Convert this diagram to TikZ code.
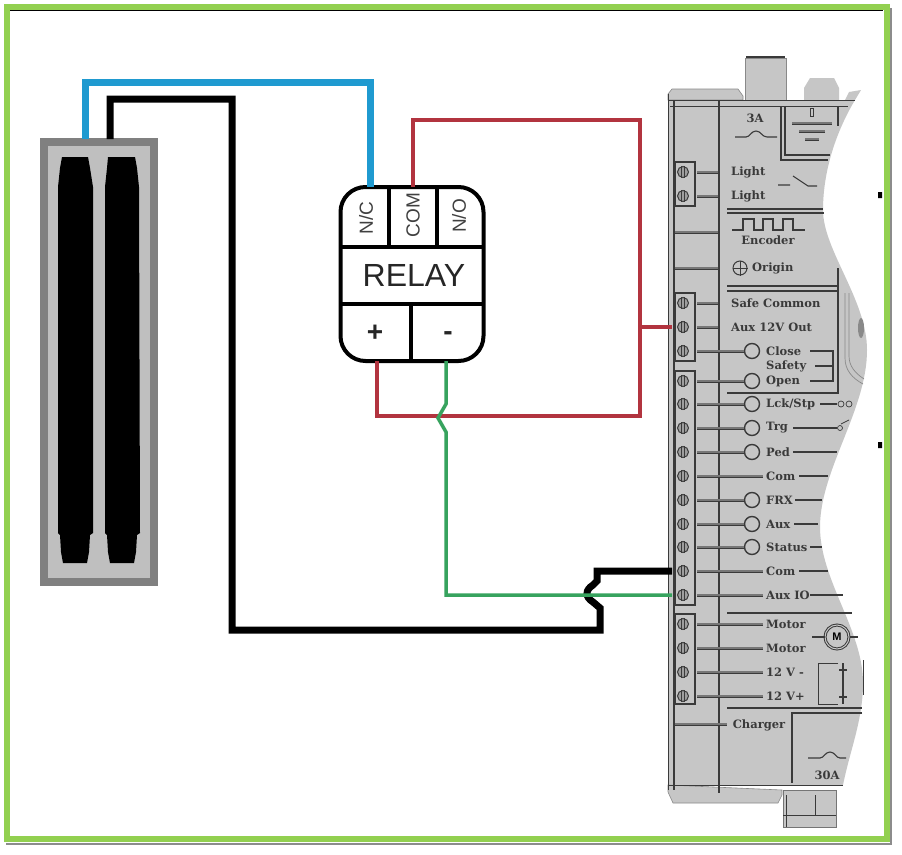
\documentclass[tikz,border=0pt]{standalone}
\usepackage{fontspec}
\usepackage{tikz}
\usetikzlibrary{shapes,arrows,positioning,calc}
\setmainfont{Liberation Sans}
\newfontfamily\panelfont{DejaVu Serif}
\definecolor{framegreen}{HTML}{92D050}
\definecolor{wireblue}{HTML}{1F9AD0}
\definecolor{wirered}{HTML}{B2343F}
\definecolor{wiregreen}{HTML}{37A35E}
\definecolor{bodygray}{HTML}{C6C6C6}
\definecolor{inkgray}{HTML}{3A3A3A}

\begin{document}
\begin{tikzpicture}[x=1pt,y=-1pt,line join=miter]
  \tikzstyle{ink}=[draw=inkgray,line width=1.1pt]
  \tikzstyle{lead}=[draw=inkgray,line width=0.7pt,double=bodygray!60!black,double distance=1.6pt]
  \tikzstyle{lbl}=[font=\panelfont\bfseries\fontsize{11.5}{12}\selectfont,text=inkgray,inner sep=0pt]
  \tikzstyle{led}=[circle,draw=inkgray,line width=1.4pt,minimum size=15pt,inner sep=0pt]
  \tikzstyle{screw}=[circle,draw=inkgray,fill=bodygray!80!black,line width=1pt,minimum size=11pt,inner sep=0pt]
  \tikzstyle{relaytext}=[font=\fontsize{19}{20}\selectfont,text=black!75,inner sep=0pt]

  \useasboundingbox (0,0) rectangle (902,854);
  \fill[white] (0,0) rectangle (902,854);

  % panel outline
  \fill[bodygray] (668,100) -- (855,100) .. controls (840,125) and (823,165) .. (823,210)
    .. controls (823,250) and (867,300) .. (867,350) .. controls (867,410) and (820,470) .. (820,527)
    .. controls (820,580) and (863,630) .. (863,683) .. controls (863,720) and (850,750) .. (843,785)
    -- (668,785) -- cycle;
  \filldraw[fill=bodygray,draw=inkgray!60,line width=0.6pt] (668,100) -- (668,94) -- (672,89) -- (738,89) -- (743,96) -- (743,100) -- cycle;
  \filldraw[fill=bodygray,draw=inkgray!60,line width=0.6pt] (745,100) -- (745,58) -- (786,58) -- (786,100) -- cycle;
  \draw[inkgray,line width=1.5pt] (746,57) -- (785,57);
  \fill[bodygray] (804,100) -- (804,88) -- (810,78) -- (834,78) -- (839,88) -- (839,100) -- cycle;
  \fill[bodygray] (845,100) -- (849,92) -- (861,90) -- (855,100) -- cycle;
  \filldraw[fill=bodygray,draw=inkgray!60,line width=0.6pt] (668,785) -- (668,792) -- (673,803) -- (778,803) -- (782,795) -- (782,790) -- cycle;
  \filldraw[fill=bodygray,draw=inkgray!70,line width=0.6pt] (783,790) rectangle (836,827);
  \draw[ink,line width=0.7pt] (786,795) -- (786,827) (815,795) -- (815,815) (783,815) -- (836,815);

  % panel rules
  \draw[ink,line width=0.8pt] (668,100) -- (855,100) (670,106) -- (848,106);
  \draw[ink] (674,100) -- (674,790) (719,100) -- (719,793);
  \draw[ink,line width=0.8pt] (668,785) -- (843,785);
  \draw[ink,line width=0.8pt] (668,94) -- (668,790);
  \draw[ink] (781,107) -- (781,160) -- (828,160) (785,107) -- (785,155) -- (830,155) (838,107) -- (838,126);
  \draw[ink,line width=1.6pt] (727,209) -- (823,209) (727,213) -- (824,213);
  \draw[ink] (727,286) -- (838,286) (727,291) -- (838,291) (838,268) -- (838,393) -- (727,393);
  \draw[ink] (727,613) -- (852,613) (727,708) -- (862,708);
  \draw[ink] (862,713) -- (792,713) -- (792,783);
  \draw[lead] (675,232) -- (718,232);
  \draw[lead] (675,268) -- (718,268);
  \draw[lead] (675,724) -- (727,724);

  % terminal blocks
  \draw[ink] (675,162) rectangle (695,206);
  \draw[ink] (675,293) rectangle (695,361);
  \draw[ink] (675,371) rectangle (695,605);
  \draw[ink] (675,614) rectangle (695,704);

  % screws
  \foreach \name/\ypos in {lightA/172,lightB/196,safe/303,auxout/327,close/351,open/381,lck/404,
    trg/428,ped/452,comA/476,frx/500,aux/524,status/547,comB/571,auxio/595,
    motorA/624,motorB/648,neg/672,pos/696} {
    \node[screw] (\name) at (683,\ypos) {};
    \draw[inkgray,line width=0.7pt] ([xshift=-1.5pt]\name.north) -- ([xshift=-1.5pt]\name.south)
      ([xshift=1.5pt]\name.north) -- ([xshift=1.5pt]\name.south);
  }

  % leads and leds
  \foreach \name/\ypos in {close/351,open/381,lck/404,trg/428,ped/452,frx/500,aux/524,status/547} {
    \node[led] (\name led) at (752,\ypos) {};
    \draw[lead] (697,\ypos) -- (\name led);
  }
  \foreach \ypos/\xend in {172/718,196/718,303/718,327/718,476/763,571/763,595/763,624/763,648/763,672/763,696/763}
    \draw[lead] (697,\ypos) -- (\xend,\ypos);

  % right side stubs
  \draw[ink] (820,404) -- (837,404) (793,428) -- (837,428) (793,452) -- (837,452) (799,476) -- (828,476)
    (795,500) -- (822,500) (794,524) -- (818,524) (810,547) -- (822,547) (799,571) -- (828,571) (810,595) -- (843,595);
  \draw[ink] (810,351) -- (833,351) -- (833,381) -- (810,381) (815,366) -- (833,366);
  \node[circle,draw=inkgray,line width=0.7pt,minimum size=6pt,inner sep=0pt] (lckA) at (841,404) {};
  \node[circle,draw=inkgray,line width=0.7pt,minimum size=6pt,inner sep=0pt] (lckB) at (849,404) {};
  \node[circle,draw=inkgray,line width=0.7pt,minimum size=5pt,inner sep=0pt] (trgA) at (840,428) {};
  \draw[ink,line width=0.7pt] (841,424) -- (849,420);

  % panel labels
  \node[lbl] (fuseA) at (755,118) {3A};
  \node[lbl,right] (lightAlbl) at (731,172) {Light};
  \node[lbl,right] (lightBlbl) at (731,196) {Light};
  \node[lbl] (enc) at (768,240) {Encoder};
  \node[lbl,right] (org) at (752,268) {Origin};
  \node[lbl,right] (safelbl) at (731,303) {Safe Common};
  \node[lbl,right] (auxlbl) at (731,327) {Aux 12V Out};
  \node[lbl,right] (closelbl) at (766,351) {Close};
  \node[lbl,right] (safety) at (766,366) {Safety};
  \node[lbl,right] (openlbl) at (766,381) {Open};
  \node[lbl,right] (lcklbl) at (766,404) {Lck/Stp};
  \node[lbl,right] (trglbl) at (766,428) {Trg};
  \node[lbl,right] (pedlbl) at (766,452) {Ped};
  \node[lbl,right] (comAlbl) at (766,476) {Com};
  \node[lbl,right] (frxlbl) at (766,500) {FRX};
  \node[lbl,right] (auxbl) at (766,524) {Aux};
  \node[lbl,right] (statlbl) at (766,547) {Status};
  \node[lbl,right] (comBlbl) at (766,571) {Com};
  \node[lbl,right] (auxiolbl) at (766,595) {Aux IO};
  \node[lbl,right] (motAlbl) at (766,624) {Motor};
  \node[lbl,right] (motBlbl) at (766,648) {Motor};
  \node[lbl,right] (neglbl) at (766,672) {12 V -};
  \node[lbl,right] (poslbl) at (766,696) {12 V+};
  \node[lbl] (chg) at (759,725) {Charger};
  \node[lbl] (fuseB) at (827,775) {30A};

  % panel symbols
  \draw[ink] (735,137) -- (746,137) .. controls (750,137) and (751,131) .. (756,131) .. controls (761,131) and (762,137) .. (767,137) -- (777,137);
  \draw[ink] (808,758) -- (820,758) .. controls (824,758) and (825,752) .. (830,752) .. controls (835,752) and (836,758) .. (840,758) -- (846,758);
  \filldraw[fill=bodygray,draw=inkgray,line width=0.7pt] (810,108) rectangle (813,116);
  \draw[lead] (792,123) -- (832,123);
  \draw[lead] (799,131) -- (825,131);
  \draw[lead] (805,139) -- (819,139);
  \draw[ink] (778,185) -- (790,185) (793,176) -- (808,186) -- (817,186);
  \draw[ink] (732,230) -- (743,230) -- (743,219) -- (754,219) -- (754,230) -- (763,230) -- (763,219) -- (773,219) -- (773,230) -- (783,230) -- (783,219) -- (793,219) -- (793,230) -- (805,230);
  \node[circle,draw=inkgray,line width=1pt,minimum size=14pt,inner sep=0pt] (originled) at (740,268) {};
  \draw[ink,line width=0.7pt] (originled.north) -- (originled.south) (originled.west) -- (originled.east);
  \node[circle,draw=inkgray,line width=1pt,double=bodygray,double distance=1pt,minimum size=24pt,inner sep=0pt,font=\bfseries\fontsize{11}{12}\selectfont] (motor) at (837,637) {M};
  \draw[ink] (812,637) -- (motor) (motor) -- (858,637);
  \draw[ink,line width=1pt] (838,663) -- (818,663) -- (818,704) -- (838,704);
  \draw[ink] (843,663) -- (843,704);
  \draw[ink,line width=2.4pt] (839,670) -- (847,670) (839,697) -- (847,697);
  \draw[ink,line width=0.8pt] (863,660) -- (863,695);
  \fill[inkgray!60] (861,328) ellipse (3pt and 10pt);
  \draw[inkgray!60,line width=0.7pt] (845,293) -- (845,358) .. controls (845,370) and (852,378) .. (863,384)
    (849,293) -- (849,356) .. controls (849,366) and (855,373) .. (864,379);

  % frame
  \draw[black!45,line width=2pt] (891,8) -- (891,844) -- (6,844);
  \draw[black,line width=0.7pt] (10,10.5) -- (883,10.5);
  \draw[framegreen,line width=6.5pt] (7,7) rectangle (887,839);
  \fill[black] (878,192) rectangle (882,198) (878,442) rectangle (882,448);

  % sensor
  \node[draw=black!50,fill=black!25,line width=8pt,minimum width=110pt,minimum height=440pt,inner sep=0pt] (sensor) at (99,362) {};
  \fill[black] (62,157) -- (88,157) -- (90,168) -- (93,187) -- (93,533) -- (90,535) -- (89,552) -- (87,563) -- (63,563) -- (61,552) -- (60,535) -- (58,533) -- (58,187) -- (60,168) -- cycle;
  \fill[black] (108,157) -- (135,157) -- (137,168) -- (139,187) -- (140,533) -- (137,535) -- (136,552) -- (134,563) -- (110,563) -- (108,552) -- (107,535) -- (105,533) -- (105,187) -- (107,168) -- cycle;
  \coordinate (sensorA) at (85,139);
  \coordinate (sensorB) at (110,139);

  % relay
  \node[draw=black,fill=white,line width=4pt,rounded corners=25pt,minimum width=143pt,minimum height=174pt,inner sep=0pt] (relay) at (412,274) {};
  \coordinate (relayNC) at (370,187);
  \coordinate (relayCOM) at (413,187);
  \coordinate (relayPlus) at (377,361);
  \coordinate (relayMinus) at (446,361);
  \draw[line width=3.5pt] (389,187) -- (389,247) (437,187) -- (437,247) (341,247) -- (483,247) (341,304) -- (483,304) (411,304) -- (411,361);
  \node[relaytext,rotate=90] (nc) at (366,218) {N/C};
  \node[relaytext,rotate=90] (com) at (413,215) {COM};
  \node[relaytext,rotate=90] (no) at (459,216) {N/O};
  \node[font=\fontsize{32}{34}\selectfont,text=black!85,inner sep=0pt] (relaylbl) at (414,275) {RELAY};
  \node[font=\bfseries\fontsize{28}{30}\selectfont,text=black!85,inner sep=0pt] (plus) at (375,333) {+};
  \node[font=\bfseries\fontsize{28}{30}\selectfont,text=black!85,inner sep=0pt] (minus) at (448,336) {-};

  % wires
  \coordinate (auxoutEnd) at (672,327);
  \coordinate (comBEnd) at (672,571);
  \coordinate (auxioEnd) at (672,595);
  \draw[wireblue,line width=7pt] (sensorA) -- (85,82) -- (370,82) -- (relayNC);
  \draw[black,line width=7pt] (sensorB) -- (110,99) -- (232,99) -- (232,630) -- (600,630) -- (600,608)
    -- (593,602) .. controls (585,597) and (585,590) .. (593,585) -- (597,581) -- (597,571) -- (comBEnd);
  \draw[wirered,line width=4pt] (relayCOM) -- (413,120) -- (640,120) -- (640,416) -- (377,416) -- (relayPlus);
  \draw[wirered,line width=4pt] (640,327) -- (auxoutEnd);
  \draw[wiregreen,line width=3.5pt] (relayMinus) -- (446,404) -- (438,418) -- (446,432) -- (446,595) -- (auxioEnd);
\end{tikzpicture}
\end{document}
